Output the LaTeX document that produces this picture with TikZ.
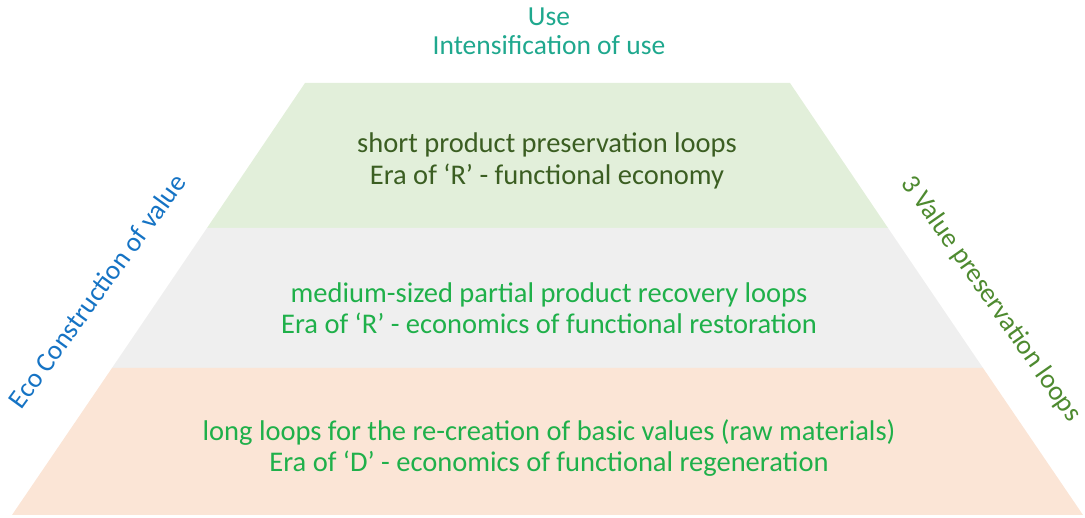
\documentclass[tikz,border=0pt]{standalone}
\usepackage{fontspec}
\setmainfont{Carlito}
\definecolor{bandgreen}{HTML}{E2EFDA}
\definecolor{bandgrey}{HTML}{EFEFEF}
\definecolor{bandpeach}{HTML}{FBE5D6}
\definecolor{usecol}{HTML}{1FA88E}
\definecolor{darkgreen}{HTML}{3B5E22}
\definecolor{brightgreen}{HTML}{1FB04A}
\definecolor{ecoblue}{HTML}{1573C4}
\definecolor{loopgreen}{HTML}{4E8A30}
\begin{document}
\begin{tikzpicture}[x=1pt,y=1pt,
	bandtext/.style={align=center,font=\fontsize{28.5}{31.5}\selectfont},
	sidetext/.style={font=\fontsize{27.3}{32}\selectfont}]
			\useasboundingbox (0,0) rectangle (1085,518);
			% corners of the bands
			\coordinate (tl) at (305,435); \coordinate (tr) at (790,435);
			\coordinate (gl) at (207,290); \coordinate (gr) at (888,290);
			\coordinate (ml) at (112,150); \coordinate (mr) at (983,150);
			\coordinate (bl) at (12,3);    \coordinate (br) at (1083,3);
			\fill[bandgreen] (tl) -- (tr) -- (gr) -- (gl) -- cycle;
			\fill[bandgrey] (gl) -- (gr) -- (mr) -- (ml) -- cycle;
			\fill[bandpeach] (ml) -- (mr) -- (br) -- (bl) -- cycle;
			% texts
			\node[bandtext,text=usecol,font=\fontsize{27.5}{29}\selectfont] (use) at (549,487) {Use\\Intensification of use};
			\node[bandtext,text=darkgreen] (short) at (547,357) {short product preservation loops\\Era of ‘R’ - functional economy};
			\node[bandtext,text=brightgreen] (medium) at (549,210) {medium-sized partial product recovery loops\\Era of ‘R’ - economics of functional restoration};
			\node[bandtext,text=brightgreen] (long) at (549,70) {long loops for the re-creation of basic values (raw materials)\\Era of ‘D’ - economics of functional regeneration};
			\node[sidetext,text=ecoblue,rotate=54] (eco) at (97,227) {Eco Construction of value};
			\node[sidetext,text=loopgreen,rotate=-55] (loops) at (991,219) {3 Value preservation loops};
\end{tikzpicture}
\end{document}
